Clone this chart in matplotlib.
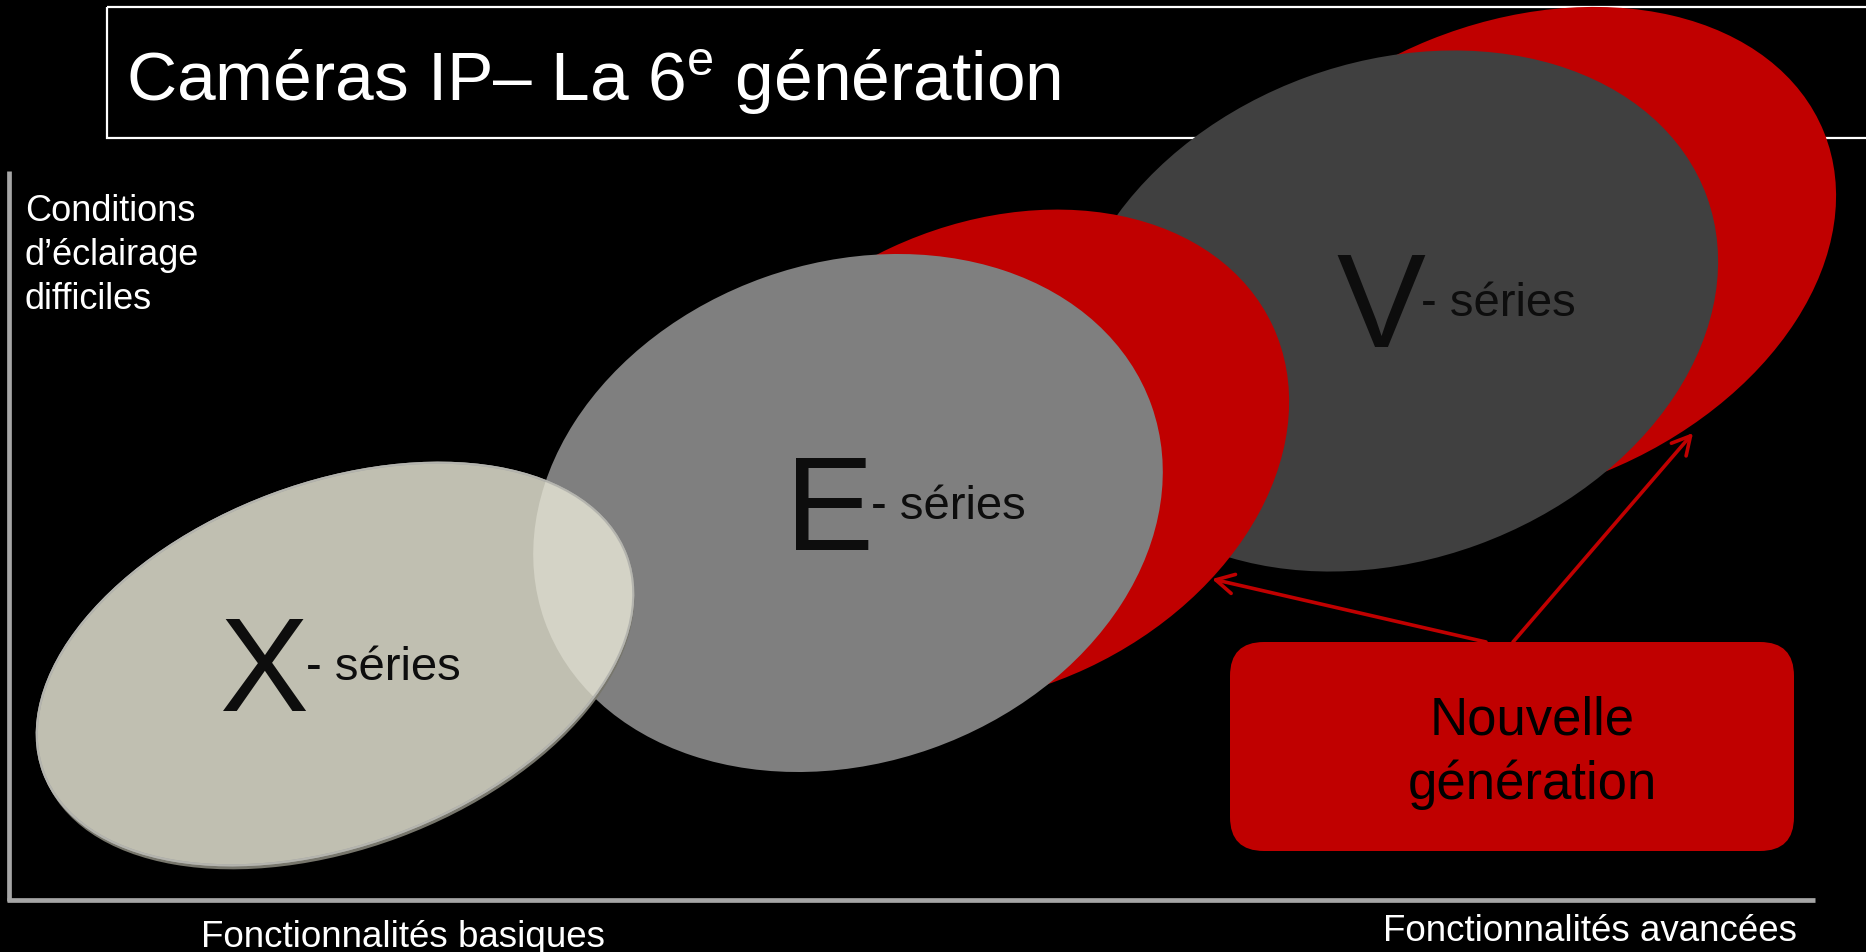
import matplotlib
matplotlib.use('Agg')
import matplotlib.pyplot as plt
from matplotlib.patches import Ellipse, Rectangle, FancyBboxPatch

plt.rcParams['font.family'] = ['Liberation Sans', 'DejaVu Sans']
plt.rcParams['mathtext.fontset'] = 'custom'
plt.rcParams['mathtext.rm'] = 'Liberation Sans'
plt.rcParams['mathtext.it'] = 'Liberation Sans:italic'

# ---------------- data ----------------
W, H = 1866, 953
title = "Caméras IP– La 6$^{\\mathrm{e}}$ génération"
y_label_lines = ["Conditions", "d’éclairage", "difficiles"]
x_label_left = "Fonctionnalités basiques"
x_label_right = "Fonctionnalités avancées"
series_letters = ["X", "E", "V"]
series_suffix = "- séries"
callout_lines = ["Nouvelle", "génération"]

# ellipses: (cx, cy, semi-major, semi-minor, tilt deg) in pixel space
grey_cx = [335, 848, 1392]
grey_cy = [665, 514, 312]
grey_a = [311, 322, 335]
grey_b = [181, 250, 249]
grey_tilt = [20.4, 19.5, 20.0]
grey_colors = ["#C0BFB1", "#7F7F7F", "#404040"]

red_cx = [None, 989, 1517]
red_cy = [None, 459, 257]
red_a = [None, 313, 331]
red_b = [None, 232, 233]
red_tilt = [None, 25, 22]

# label anchors (letter left/baseline, suffix left/baseline)
letter_x = [220, 785, 1336]
letter_base = [711, 550, 347]
suffix_x = [306, 871, 1421]
suffix_base = [680, 519, 316]

# arrows (start on box, tip on red crescent)
arrow_start = [(1486, 643), (1513, 643)]
arrow_end = [(1212, 580), (1693, 434)]

# callout box
box_x0, box_y0, box_x1, box_y1 = 1230, 643, 1794, 852

RED = "#C00000"

fig = plt.figure(figsize=(W / 100, H / 100), dpi=100, facecolor="black")
ax = fig.add_axes([0, 0, 1, 1])
ax.set_xlim(0, W)
ax.set_ylim(H, 0)
ax.axis("off")

# title box
ax.add_patch(Rectangle((107, 8), 1900, 131, fill=False, edgecolor="white",
                       lw=1.6, zorder=1))
ax.text(126, 101, title, color="white", fontsize=50, ha="left",
        va="baseline", zorder=1.5)

# axes lines
ax.plot([9, 9], [172, 902], color="#A6A6A6", lw=3.4, solid_capstyle="butt", zorder=1)
ax.plot([7, 1815], [900.5, 900.5], color="#A6A6A6", lw=3.4, solid_capstyle="butt", zorder=1)

# axis texts
for i, line in enumerate(y_label_lines):
    ax.text(25, 221 + 44 * i, line, color="white", fontsize=26,
            ha="left", va="baseline")
ax.text(403, 947, x_label_left, color="white", fontsize=26.5, ha="center", va="baseline")
ax.text(1797, 941, x_label_right, color="white", fontsize=26.5, ha="right", va="baseline")

# ellipses, back to front: V, E, X
z = 2
for i in [2, 1]:
    ax.add_patch(Ellipse((red_cx[i], red_cy[i]), 2 * red_a[i], 2 * red_b[i],
                         angle=-red_tilt[i], facecolor=RED, edgecolor="none", zorder=z))
    ax.add_patch(Ellipse((grey_cx[i], grey_cy[i]), 2 * grey_a[i], 2 * grey_b[i],
                         angle=-grey_tilt[i], facecolor=grey_colors[i], edgecolor="none",
                         zorder=z + 1))
    z += 2

# X ellipse with shadow + outline
ax.add_patch(Ellipse((grey_cx[0] + 1, grey_cy[0] + 4), 2 * grey_a[0], 2 * grey_b[0],
                     angle=-grey_tilt[0], facecolor="#77766C", edgecolor="none", zorder=10))
x_ell = Ellipse((grey_cx[0], grey_cy[0]), 2 * grey_a[0], 2 * grey_b[0],
                angle=-grey_tilt[0], facecolor=grey_colors[0], edgecolor="#A3A39E",
                lw=1.5, zorder=11)
ax.add_patch(x_ell)
overlap = Ellipse((grey_cx[1], grey_cy[1]), 2 * grey_a[1], 2 * grey_b[1],
                  angle=-grey_tilt[1], facecolor="#D4D3C6", edgecolor="none", zorder=12)
ax.add_patch(overlap)
overlap.set_clip_path(x_ell)
x_edge = Ellipse((grey_cx[0], grey_cy[0]), 2 * grey_a[0], 2 * grey_b[0],
                 angle=-grey_tilt[0], fill=False, edgecolor="#B4B4AE", lw=1.5, zorder=12.5)
ax.add_patch(x_edge)

# series labels
for i, letter in enumerate(series_letters):
    ax.text(letter_x[i], letter_base[i], letter, color="#0D0D0D", fontsize=96,
            ha="left", va="baseline", zorder=20)
    ax.text(suffix_x[i], suffix_base[i], series_suffix, color="#0D0D0D", fontsize=34,
            ha="left", va="baseline", zorder=20)

# arrows
for s, e in zip(arrow_start, arrow_end):
    ax.annotate("", xy=e, xytext=s,
                arrowprops=dict(arrowstyle="->,head_length=0.65,head_width=0.35",
                                color=RED, lw=2.6, mutation_scale=20,
                                shrinkA=0, shrinkB=0),
                zorder=21)

# callout box
ax.add_patch(FancyBboxPatch((box_x0, box_y0), box_x1 - box_x0, box_y1 - box_y0,
                            boxstyle="round,pad=0,rounding_size=34",
                            facecolor=RED, edgecolor="none", zorder=22))
ax.text(1532, 735, callout_lines[0], color="black", fontsize=38, ha="center",
        va="baseline", zorder=23)
ax.text(1532, 799, callout_lines[1], color="black", fontsize=38, ha="center",
        va="baseline", zorder=23)

fig.savefig("out.png", dpi=100, facecolor="black")
